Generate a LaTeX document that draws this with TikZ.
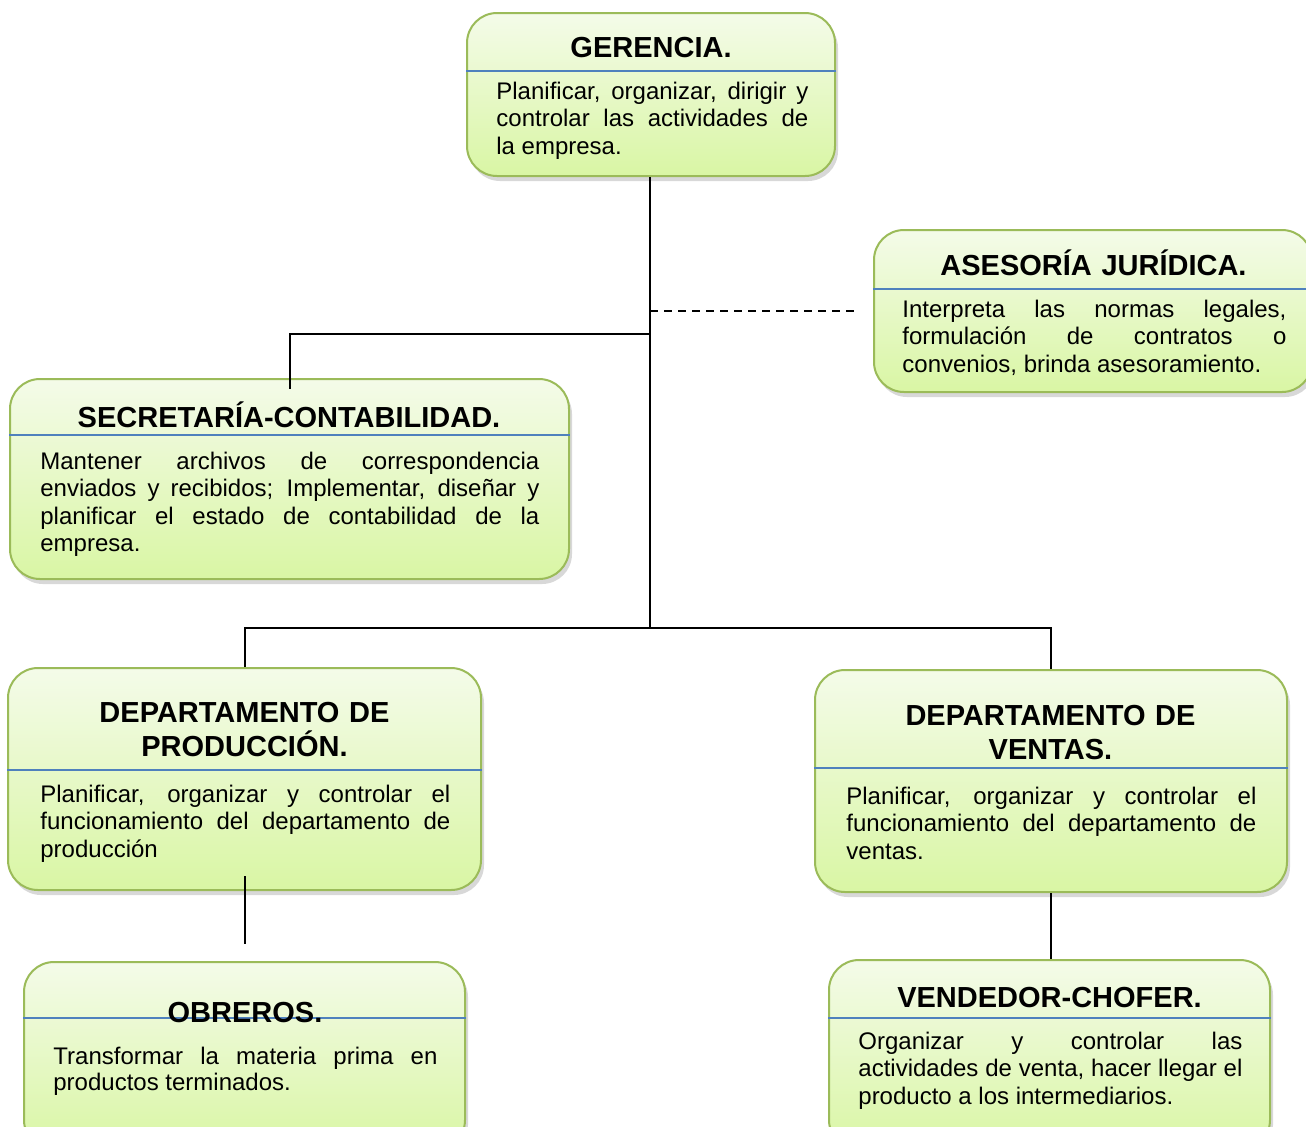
\documentclass[tikz,border=0pt]{standalone}
\usepackage{fontspec}
\setmainfont{Liberation Sans}
\usetikzlibrary{shadows}
\definecolor{bordergreen}{HTML}{9BBB59}
\definecolor{divblue}{HTML}{4F81BD}
\definecolor{topfill}{HTML}{F4FBE9}
\definecolor{botfill}{HTML}{D9F6A4}
\hyphenpenalty=10000
\exhyphenpenalty=10000
\tolerance=9999
\tikzset{
  orgbox/.style={draw=bordergreen, line width=1pt, rounded corners=15pt,
    top color=topfill, bottom color=botfill,
    drop shadow={shadow xshift=1.5pt, shadow yshift=-2.5pt, opacity=0.3},
    inner sep=0pt},
  boxtitle/.style={font=\fontsize{14.5}{17}\selectfont\bfseries, anchor=base,
    inner sep=0pt, align=center, text width=215pt},
  boxbody/.style={font=\fontsize{12}{13.8}\selectfont, anchor=base west,
    inner sep=0pt, align=justify},
  divider/.style={draw=divblue, line width=0.75pt},
  conn/.style={draw=black, line width=1pt}
}
\begin{document}
\begin{tikzpicture}[x=0.5pt, y=-0.5pt]
\path[fill=white, use as bounding box] (0,0) rectangle (1306,1126);

% boxes
\node[orgbox, minimum width=184pt, minimum height=81.5pt] (ger) at (651,94.5) {};
\node[orgbox, minimum width=219pt, minimum height=81pt] (ase) at (1093,311) {};
\node[orgbox, minimum width=279.5pt, minimum height=100pt] (sec) at (289.5,479) {};
\node[orgbox, minimum width=236.5pt, minimum height=111pt] (pro) at (244.5,779) {};
\node[orgbox, minimum width=236pt, minimum height=111pt] (ven) at (1051,781) {};
\node[orgbox, minimum width=220.5pt, minimum height=94pt] (obr) at (244.5,1056) {};
\node[orgbox, minimum width=220.5pt, minimum height=95pt] (vnd) at (1049.5,1055) {};

% dividers
\draw[divider] (ger.west |- 0,71) -- (ger.east |- 0,71);
\draw[divider] (ase.west |- 0,289) -- (ase.east |- 0,289);
\draw[divider] (sec.west |- 0,435) -- (sec.east |- 0,435);
\draw[divider] (pro.west |- 0,770) -- (pro.east |- 0,770);
\draw[divider] (ven.west |- 0,768) -- (ven.east |- 0,768);
\draw[divider] (obr.west |- 0,1018) -- (obr.east |- 0,1018);
\draw[divider] (vnd.west |- 0,1018) -- (vnd.east |- 0,1018);

% titles
\node[boxtitle] (gerT) at (651,57.5) {GERENCIA.};
\node[boxtitle] (aseT) at (1093.5,275.5) {ASESORÍA JURÍDICA.};
\node[boxtitle, text width=260pt] (secT) at (289,427.5) {SECRETARÍA-CONTABILIDAD.};
\node[boxtitle] (proT) at (244.5,722.5) {DEPARTAMENTO DE\\PRODUCCIÓN.};
\node[boxtitle] (venT) at (1050.5,725.5) {DEPARTAMENTO DE\\VENTAS.};
\node[boxtitle] (obrT) at (245,1022.5) {OBREROS.};
\node[boxtitle] (vndT) at (1049.5,1007.5) {VENDEDOR-CHOFER.};

% bodies
\node[boxbody, text width=156pt] (gerB) at (496,99) {Planificar, organizar, dirigir y\linebreak controlar las actividades de\linebreak la empresa.};
\node[boxbody, text width=192pt] (aseB) at (902,317) {Interpreta las normas legales,\linebreak formulación de contratos o\linebreak convenios, brinda asesoramiento.};
\node[boxbody, text width=249.5pt] (secB) at (40,469) {Mantener archivos de correspondencia\linebreak enviados y recibidos; Implementar, diseñar y\linebreak planificar el estado de contabilidad de la\linebreak empresa.};
\node[boxbody, text width=205pt] (proB) at (40,802) {Planificar, organizar y controlar el\linebreak funcionamiento del departamento de\linebreak producción};
\node[boxbody, text width=205pt] (venB) at (846,804) {Planificar, organizar y controlar el\linebreak funcionamiento del departamento de\linebreak ventas.};
\node[boxbody, text width=192pt, font=\fontsize{12}{13}\selectfont] (obrB) at (53,1064) {Transformar la materia prima en\linebreak productos terminados.};
\node[boxbody, text width=192pt] (vndB) at (858,1049) {Organizar y controlar las\linebreak actividades de venta, hacer llegar el\linebreak producto a los intermediarios.};

% connectors
\coordinate (t1) at (650,334);
\coordinate (t2) at (650,628);
\coordinate (dend) at (855,311);
\draw[conn] (ger.south -| t1) -- (t2);
\draw[conn] (t1) -| ([yshift=-5.5pt]sec.north);
\draw[conn, dash pattern=on 4pt off 3pt] (t1 |- dend) -- (dend);
\draw[conn] (pro.north) |- (t2) -| (ven.north);
\draw[conn] ([yshift=7.5pt]pro.south) -- ([yshift=8.5pt]obr.north);
\draw[conn] (ven.south) -- (ven.south |- vnd.north);
\end{tikzpicture}
\end{document}
